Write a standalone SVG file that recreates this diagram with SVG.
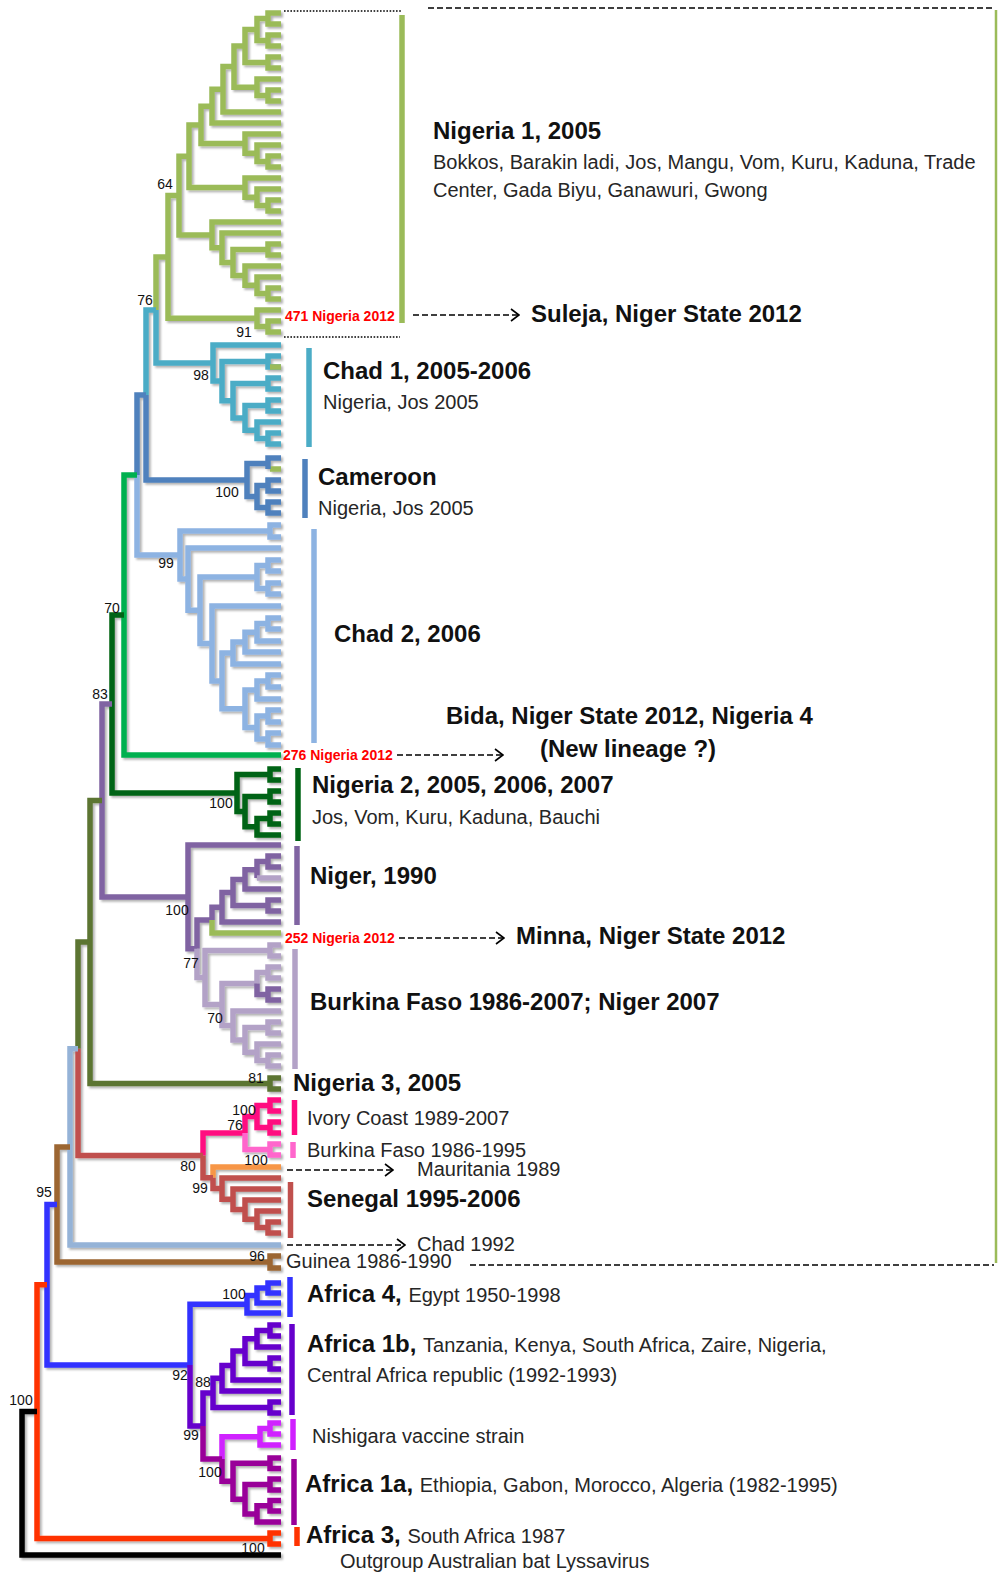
<svg xmlns="http://www.w3.org/2000/svg" width="1000" height="1574" viewBox="0 0 1000 1574">
<defs>
<filter id="sh" x="-5%" y="-5%" width="110%" height="110%">
<feDropShadow dx="2" dy="2" stdDeviation="1.2" flood-color="#000" flood-opacity="0.3"/>
</filter>
<marker id="ah" viewBox="0 0 10 14" refX="9" refY="7" markerWidth="10" markerHeight="14" markerUnits="userSpaceOnUse" orient="auto">
<path d="M1,1 L9,7 L1,13" fill="none" stroke="#000" stroke-width="1.6"/>
</marker>
</defs>
<style>
.t path{fill:none;stroke-width:5.5;stroke-linejoin:miter}
.g1{stroke:#9bbb59}.tl{stroke:#4bacc6}.bl{stroke:#4f81bd}.lb{stroke:#8db3e2}
.bg{stroke:#00b050}.dg{stroke:#006414}.pu{stroke:#8064a2}.lp{stroke:#b3a2c7}
.ol{stroke:#5b7430}.pk{stroke:#ff0a80}.lpk{stroke:#ff66cc}.or{stroke:#f79646}
.rd{stroke:#c0504d}.cb{stroke:#95b3d7}.br{stroke:#9c6630}.b4{stroke:#3333ff}
.p1b{stroke:#6600cc}.mg{stroke:#d020ff}.p1a{stroke:#990099}.a3{stroke:#ff3300}.bk{stroke:#000}
.bs{font-family:"Liberation Sans",Arial,sans-serif;font-size:14px;fill:#111;text-anchor:middle}
.h{font-family:"Liberation Sans",Arial,sans-serif;font-size:24px;font-weight:bold;fill:#111}
.r{font-family:"Liberation Sans",Arial,sans-serif;font-size:20px;font-weight:normal;fill:#262626}
.red{font-family:"Liberation Sans",Arial,sans-serif;font-size:14px;font-weight:bold;fill:#ff0000}
.dash{stroke:#000;stroke-width:1.6;stroke-dasharray:6 3;fill:none}
.dot{stroke:#000;stroke-width:1.6;stroke-dasharray:1.6 1.6;fill:none}
</style>

<g id="tree" class="t" filter="url(#sh)">
<g id="clade-nigeria1">
<path class="g1" d="M281 13H268V24H281M281 35H268V46H281M268 18.5H257V40.5H268M281 57H268V68H281M257 29.5H245V62.5H268M281 90H268V101H281M281 79H257V95.5H268M245 46H234V87.25H257M234 66.6H223V112H281M223 89.3H212V123H281M281 156H268V167H281M281 145H257V161.5H268M281 134H245V153.25H257M212 106.2H201V143.6H245M281 200H268V211H281M281 189H257V205.5H268M281 178H245V197.25H257M201 124.9H189V187.6H245M281 288H268V299H281M281 277H257V293.5H268M281 266H245V285.25H257M281 244H268V255H281M268 249.5H233V275.6H245M281 233H222V262.6H233M281 222H212V247.8H222M189 156.25H179V234.9H212M281 321H268V332H281M281 310H257V326.5H268M179 195.6H168V318.25H257M168 256.9H156V310"/>
</g>
<g id="clade-chad1">
<path class="tl" d="M156 310V363H213M281 356H268V367H281M281 378H268V389H281M281 400H268V411H281M281 433H268V444H281M281 422H257V438.5H268M268 405.5H245V430.25H257M268 383.5H233V417.9H245M268 361.5H222V400.7H233M281 345H213V381.1H222M156 310H146V395"/>
<path class="g1" d="M270 367H281M270 469H281"/>
</g>
<g id="clade-cameroon">
<path class="bl" d="M146 395V480H247M281 458H268V469M281 480H268V491H281M281 502H268V513H281M268 485.5H257V507.5H268M268 463.5H247V496.5H257M146 395H137V475"/>
</g>
<g id="clade-chad2">
<path class="lb" d="M137 475V555H180M281 525H270V537H281M281 560H268V571H281M281 583H268V594H281M268 565.5H257V588.5H268M281 618H268V629H281M268 623.5H257V641H281M257 632.25H245V652H281M245 642.1H233V664H281M281 675H268V687H281M268 681H257V699H281M281 710H268V722H281M281 733H268V745H281M268 716H257V739H268M257 690H245V727.5H257M233 653.1H222V708.75H245M281 606H212V680.9H222M257 577H200V643.5H212M281 548H188V610.2H200M270 531H180V579.1H188"/>
</g>
<g id="clade-bida">
<path class="bg" d="M137 475H124V755H281"/>
</g>
<g id="clade-nigeria2">
<path class="dg" d="M124 615H112V793H237M281 769H270V780H281M281 791H270V802H281M281 813H270V824H281M270 818.5H257V835H281M270 796.5H245V826.75H257M270 774.5H237V811.6H245"/>
</g>
<g id="clade-niger">
<path class="pu" d="M112 704H102V897H188M281 845H188V948.75H197M281 856H268V867H281M268 861.5H257V878M257 869.75H245V889H281M281 900H268V911H281M245 879.4H233V905.5H268M233 892.4H222V922H281M222 907.2H212V920M212 920H197V948.75"/>
<path class="lp" d="M257 878H281"/>
<path class="g1" d="M212 920V933H281"/>
</g>
<g id="clade-burkina">
<path class="lp" d="M197 948.75V977.5H205M270 950.5H205V1004.5H222M281 945H270V956H281M281 967H268V978H281M268 972.5H257V983.5M281 1055H268V1066H281M281 1044H257V1060.5H268M281 1022H268V1033H281M268 1027.5H245V1052.25H257M281 1011H233V1039.9H245M257 983.5H222V1025.4H233"/>
<path class="pu" d="M281 989H268V1000H281M257 983.5V994.5H268"/>
</g>
<g id="clade-nigeria3">
<path class="ol" d="M102 800.5H90V1083.5H270M281 1078H270V1089H281M90 942H78V1048.7"/>
</g>
<g id="clade-ivory">
<path class="pk" d="M281 1100H270V1111H281M281 1122H270V1133H281M270 1105.5H257V1127.5H270M257 1116.5H245V1133M245 1133H203V1155.4"/>
<path class="lpk" d="M245 1133V1149.5H270M281 1144H270V1155H281"/>
</g>
<g id="clade-senegal">
<path class="or" d="M281 1167H213V1177.8"/>
<path class="rd" d="M281 1222H268V1233H281M281 1211H257V1227.5H268M281 1200H245V1219.25H257M281 1189H233V1209.6H245M281 1178H222V1199.3H233M213 1177.8V1188.6H222M203 1155.4V1177.8H213M78 1048.7V1155.4H203"/>
</g>
<g id="clade-chad1992">
<path class="cb" d="M78 1048.7H70V1245H281"/>
</g>
<g id="clade-guinea">
<path class="br" d="M70 1146.9H57V1262H270M281 1256H270V1268H281"/>
</g>
<g id="clade-africa4">
<path class="b4" d="M57 1204.5H47V1365H190M281 1283H268V1293H281M268 1288H257V1303H281M257 1295.5H247V1313H281M247 1304.25H190V1365"/>
</g>
<g id="clade-africa1b">
<path class="p1b" d="M190 1365V1426H203M281 1325H270V1336H281M270 1330.5H257V1347H281M281 1358H270V1369H281M257 1338.75H245V1363.5H270M245 1351.1H233V1380H281M233 1365.6H222V1391H281M281 1402H270V1413H281M222 1378.3H213V1407.5H270M213 1392.9H203V1426"/>
</g>
<g id="clade-nishigara">
<path class="mg" d="M281 1423H270V1434H281M270 1428.5H260V1445H281M260 1436.75H222V1459"/>
</g>
<g id="clade-africa1a">
<path class="p1a" d="M203 1426V1459H222M222 1459V1481.2H233M281 1458H270V1468.5H281M281 1479H270V1490H281M281 1500.5H270V1511H281M270 1505.75H257V1522H281M270 1484.5H245V1513.9H257M270 1463.25H233V1499.2H245"/>
</g>
<g id="clade-africa3">
<path class="a3" d="M47 1284.75H37V1538.5H270M281 1533H270V1544H281"/>
</g>
<g id="clade-outgroup">
<path class="bk" d="M37 1411.6H22V1555H281"/>
</g>
</g>

<g id="bars" class="t">
<path class="g1" d="M402 15V323"/>
<path class="tl" d="M309 348V447"/>
<path class="bl" d="M305 459V518"/>
<path class="lb" d="M314 529V743"/>
<path class="dg" d="M298 768V841"/>
<path class="pu" d="M297 846V925"/>
<path class="lp" d="M295 949V1069"/>
<path class="pk" d="M294.5 1100V1135"/>
<path class="lpk" d="M293 1142V1158"/>
<path class="rd" d="M290.5 1182V1238"/>
<path class="b4" d="M290 1277V1317"/>
<path class="p1b" d="M292 1324V1415"/>
<path class="mg" d="M293 1419V1450"/>
<path class="p1a" d="M294 1459V1525"/>
<path class="a3" d="M297 1527V1546"/>
</g>

<g id="connectors">
<path class="dot" d="M284 11H401M284 337H400"/>
<path class="dash" d="M428 8H994M470 1265H994"/>
<path d="M996 10V1263" stroke="#9bbb59" stroke-width="2.5" fill="none"/>
<path class="dash" d="M413 315H519" marker-end="url(#ah)"/>
<path class="dash" d="M397 755H503" marker-end="url(#ah)"/>
<path class="dash" d="M399 938H504" marker-end="url(#ah)"/>
<path class="dash" d="M287 1170H393" marker-end="url(#ah)"/>
<path class="dash" d="M287 1245H405" marker-end="url(#ah)"/>
</g>

<g id="bootstrap">
<text class="bs" x="165" y="189">64</text>
<text class="bs" x="145" y="305">76</text>
<text class="bs" x="244" y="337">91</text>
<text class="bs" x="201" y="380">98</text>
<text class="bs" x="227" y="497">100</text>
<text class="bs" x="166" y="568">99</text>
<text class="bs" x="112" y="613">70</text>
<text class="bs" x="100" y="699">83</text>
<text class="bs" x="221" y="808">100</text>
<text class="bs" x="177" y="915">100</text>
<text class="bs" x="191" y="968">77</text>
<text class="bs" x="215" y="1023">70</text>
<text class="bs" x="256" y="1083">81</text>
<text class="bs" x="244" y="1115">100</text>
<text class="bs" x="235" y="1130">76</text>
<text class="bs" x="256" y="1165">100</text>
<text class="bs" x="188" y="1171">80</text>
<text class="bs" x="200" y="1193">99</text>
<text class="bs" x="44" y="1197">95</text>
<text class="bs" x="257" y="1261">96</text>
<text class="bs" x="234" y="1299">100</text>
<text class="bs" x="180" y="1380">92</text>
<text class="bs" x="203" y="1387">88</text>
<text class="bs" x="191" y="1440">99</text>
<text class="bs" x="210" y="1477">100</text>
<text class="bs" x="21" y="1405">100</text>
<text class="bs" x="253" y="1553">100</text>
</g>

<g id="labels">
<text class="h" x="433" y="139">Nigeria 1, 2005</text>
<text class="r" x="433" y="169">Bokkos, Barakin ladi, Jos, Mangu, Vom, Kuru, Kaduna, Trade</text>
<text class="r" x="433" y="197">Center, Gada Biyu, Ganawuri, Gwong</text>
<text class="red" x="285" y="321">471 Nigeria 2012</text>
<text class="h" x="531" y="322">Suleja, Niger State 2012</text>
<text class="h" x="323" y="379">Chad 1, 2005-2006</text>
<text class="r" x="323" y="409">Nigeria, Jos 2005</text>
<text class="h" x="318" y="485">Cameroon</text>
<text class="r" x="318" y="515">Nigeria, Jos 2005</text>
<text class="h" x="334" y="642">Chad 2, 2006</text>
<text class="h" x="446" y="724">Bida, Niger State 2012, Nigeria 4</text>
<text class="h" x="540" y="757">(New lineage ?)</text>
<text class="red" x="283" y="760">276 Nigeria 2012</text>
<text class="h" x="312" y="793">Nigeria 2, 2005, 2006, 2007</text>
<text class="r" x="312" y="824">Jos, Vom, Kuru, Kaduna, Bauchi</text>
<text class="h" x="310" y="884">Niger, 1990</text>
<text class="red" x="285" y="943">252 Nigeria 2012</text>
<text class="h" x="516" y="944">Minna, Niger State 2012</text>
<text class="h" x="310" y="1010">Burkina Faso 1986-2007; Niger 2007</text>
<text class="h" x="293" y="1091">Nigeria 3, 2005</text>
<text class="r" x="307" y="1125">Ivory Coast 1989-2007</text>
<text class="r" x="307" y="1157">Burkina Faso 1986-1995</text>
<text class="r" x="417" y="1176">Mauritania 1989</text>
<text class="h" x="307" y="1207">Senegal 1995-2006</text>
<text class="r" x="417" y="1251">Chad 1992</text>
<text class="r" x="286" y="1268">Guinea 1986-1990</text>
<text class="h" x="307" y="1302">Africa 4, <tspan class="r">Egypt 1950-1998</tspan></text>
<text class="h" x="307" y="1352">Africa 1b, <tspan class="r">Tanzania, Kenya, South Africa, Zaire, Nigeria,</tspan></text>
<text class="r" x="307" y="1382">Central Africa republic (1992-1993)</text>
<text class="r" x="312" y="1443">Nishigara vaccine strain</text>
<text class="h" x="305" y="1492">Africa 1a, <tspan class="r">Ethiopia, Gabon, Morocco, Algeria (1982-1995)</tspan></text>
<text class="h" x="306" y="1543">Africa 3, <tspan class="r">South Africa 1987</tspan></text>
<text class="r" x="340" y="1568">Outgroup Australian bat Lyssavirus</text>
</g>
</svg>
